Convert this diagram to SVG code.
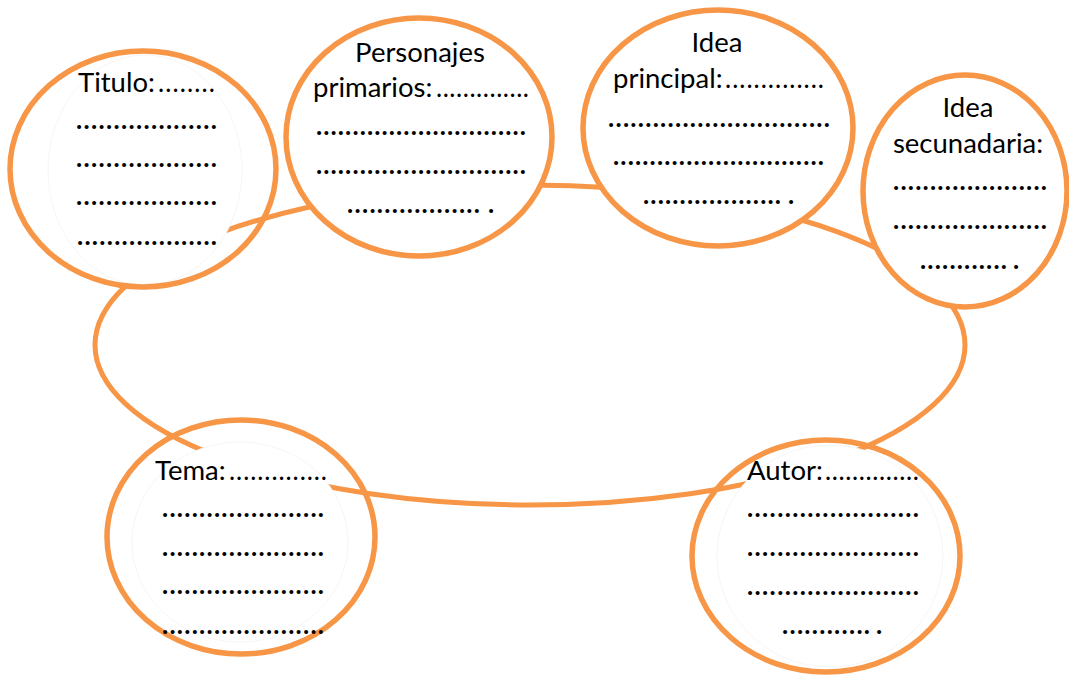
<svg xmlns="http://www.w3.org/2000/svg" width="1069" height="677" viewBox="0 0 1069 677">
<style>
.ring{fill:none;stroke:#F79646;stroke-width:5}
.bub{stroke:#F79646;stroke-width:5.5}
.cover{fill:#fff;stroke:#f6f6f6;stroke-width:1}
text{font-family:Lato,"Open Sans","DejaVu Sans",sans-serif;font-size:27.5px;fill:#000}
.d{font-size:26px;font-weight:bold}
.l{font-size:26px}
</style>
<rect width="1069" height="677" fill="#fff"/>
<g id="connectors">
<ellipse class="ring" cx="530" cy="345" rx="435" ry="160"/>
</g>
<g id="titulo">
<ellipse class="cover" cx="145" cy="170" rx="97" ry="115"/>
<ellipse class="bub" fill="none" cx="143" cy="169" rx="133" ry="118"/>
<text x="78" y="92">Titulo:</text>
<text class="l" x="158" y="92" textLength="57" lengthAdjust="spacing">........</text>
<text class="d" x="76" y="129" textLength="141" lengthAdjust="spacing">...................</text>
<text class="d" x="76" y="167" textLength="141" lengthAdjust="spacing">...................</text>
<text class="d" x="76" y="205" textLength="141" lengthAdjust="spacing">...................</text>
<text class="d" x="77" y="245" textLength="140" lengthAdjust="spacing">...................</text>
</g>
<g id="personajes">
<ellipse class="bub" fill="#fff" cx="419" cy="137" rx="133" ry="119"/>
<text x="420" y="62" text-anchor="middle">Personajes</text>
<text x="313" y="97">primarios:</text>
<text class="l" x="436" y="97" textLength="93" lengthAdjust="spacing">..............</text>
<text class="d" x="316" y="135" textLength="210" lengthAdjust="spacing">.............................</text>
<text class="d" x="316" y="174" textLength="210" lengthAdjust="spacing">.............................</text>
<text class="d" x="347" y="213" textLength="133" lengthAdjust="spacing">..................</text>
<text class="d" x="488" y="213">.</text>
</g>
<g id="idea-principal">
<ellipse class="bub" fill="#fff" cx="718" cy="128" rx="135" ry="118"/>
<text x="717" y="52" text-anchor="middle">Idea</text>
<text x="613" y="88">principal:</text>
<text class="l" x="725" y="88" textLength="99" lengthAdjust="spacing">..............</text>
<text class="d" x="608" y="127" textLength="222" lengthAdjust="spacing">..............................</text>
<text class="d" x="613" y="165" textLength="211" lengthAdjust="spacing">.............................</text>
<text class="d" x="643" y="204" textLength="138" lengthAdjust="spacing">...................</text>
<text class="d" x="788" y="204">.</text>
</g>
<g id="idea-secundaria">
<ellipse class="bub" fill="#fff" cx="965" cy="191" rx="102" ry="116"/>
<text x="968" y="117" text-anchor="middle">Idea</text>
<text x="968" y="153" text-anchor="middle">secunadaria:</text>
<text class="d" x="893" y="190" textLength="154" lengthAdjust="spacing">.....................</text>
<text class="d" x="893" y="229" textLength="154" lengthAdjust="spacing">.....................</text>
<text class="d" x="920" y="269" textLength="87" lengthAdjust="spacing">............</text>
<text class="d" x="1013" y="269">.</text>
</g>
<g id="tema">
<ellipse class="cover" cx="240" cy="542" rx="108" ry="100"/>
<ellipse class="bub" fill="none" cx="241" cy="537" rx="134" ry="117"/>
<text x="155" y="480">Tema:</text>
<text class="l" x="229" y="480" textLength="98" lengthAdjust="spacing">..............</text>
<text class="d" x="162" y="517" textLength="162" lengthAdjust="spacing">......................</text>
<text class="d" x="162" y="556" textLength="162" lengthAdjust="spacing">......................</text>
<text class="d" x="162" y="594" textLength="162" lengthAdjust="spacing">......................</text>
<text class="d" x="162" y="634" textLength="162" lengthAdjust="spacing">......................</text>
</g>
<g id="autor">
<ellipse class="cover" cx="830" cy="556" rx="113" ry="111"/>
<ellipse class="bub" fill="none" cx="826" cy="556" rx="134" ry="116"/>
<text x="747" y="480">Autor:</text>
<text class="l" x="825" y="480" textLength="94" lengthAdjust="spacing">..............</text>
<text class="d" x="747" y="517" textLength="172" lengthAdjust="spacing">.......................</text>
<text class="d" x="747" y="556" textLength="172" lengthAdjust="spacing">.......................</text>
<text class="d" x="747" y="595" textLength="172" lengthAdjust="spacing">.......................</text>
<text class="d" x="782" y="634" textLength="88" lengthAdjust="spacing">............</text>
<text class="d" x="876" y="634">.</text>
</g>
</svg>
